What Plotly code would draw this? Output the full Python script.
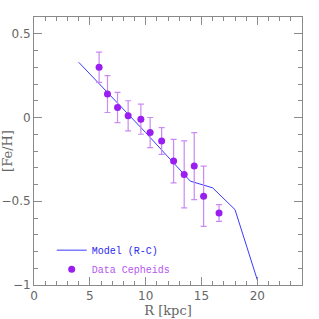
import plotly.graph_objects as go

# Model (R-C) curve
model_r = [4, 6, 8, 10, 12, 14, 16, 18, 20]
model_feh = [0.33, 0.19, 0.055, -0.09, -0.235, -0.38, -0.42, -0.55, -0.97]

# Cepheid data
data_r = [5.83, 6.58, 7.48, 8.43, 9.57, 10.4, 11.43, 12.5, 13.45, 14.35, 15.19, 16.57]
data_feh = [0.30, 0.14, 0.06, 0.01, -0.01, -0.09, -0.14, -0.26, -0.34, -0.29, -0.47, -0.57]
data_err = [0.09, 0.11, 0.09, 0.09, 0.09, 0.09, 0.08, 0.13, 0.20, 0.20, 0.18, 0.05]

x_ticks = [0, 5, 10, 15, 20]
y_ticks = [-1, -0.5, 0, 0.5]
y_ticklabels = ["\u22121", "\u22120.5", "0", "0.5"]

fig = go.Figure()
fig.add_trace(go.Scatter(
    x=model_r, y=model_feh, mode="lines",
    line=dict(color="#3a3aff", width=1),
    name="<span style='color:#2a2af0'>Model (R-C)</span>",
))
fig.add_trace(go.Scatter(
    x=data_r, y=data_feh, mode="markers",
    marker=dict(color="#9a1ef0", size=7),
    error_y=dict(type="data", array=data_err, color="#c98af2", thickness=1.2, width=3),
    name="<span style='color:#b555f0'>Data Cepheids</span>",
))

axis_common = dict(
    showline=True, linecolor="#8a8a8a", linewidth=1, mirror="ticks",
    ticks="inside", ticklen=8, tickcolor="#8a8a8a", tickwidth=1,
    showgrid=False, zeroline=False, automargin=False,
    tickfont=dict(family="DejaVu Sans", size=12, color="#666666"),
)

fig.update_xaxes(
    range=[0, 24], tickvals=x_ticks,
    minor=dict(dtick=1, ticks="inside", ticklen=4, tickcolor="#8a8a8a", showgrid=False),
    title=dict(text="R [kpc]", font=dict(family="DejaVu Serif", size=13, color="#666666"), standoff=0),
    **axis_common,
)
fig.update_yaxes(
    range=[-1, 0.6], tickvals=y_ticks, ticktext=y_ticklabels,
    minor=dict(dtick=0.1, ticks="inside", ticklen=4, tickcolor="#8a8a8a", showgrid=False),
    title=dict(text="[Fe/H]", font=dict(family="DejaVu Serif", size=13, color="#666666"), standoff=2),
    **axis_common,
)

fig.update_layout(
    width=319, height=319,
    margin=dict(l=34, r=17, t=17, b=34),
    plot_bgcolor="white", paper_bgcolor="white",
    legend=dict(
        x=0.066, y=0.005, xanchor="left", yanchor="bottom",
        bgcolor="rgba(0,0,0,0)", itemwidth=30,
        font=dict(family="Liberation Mono", size=10),
        tracegroupgap=0,
    ),
)

fig.write_html(
    "out.html",
    config={"displayModeBar": False},
    post_script="document.body.style.margin='0';document.body.style.overflow='hidden';",
)
